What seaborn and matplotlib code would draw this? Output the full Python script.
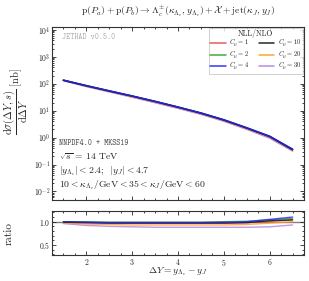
import numpy as np
import pandas as pd
import matplotlib
matplotlib.use('Agg')
import matplotlib.pyplot as plt
from matplotlib.ticker import MultipleLocator, LogLocator, NullFormatter
import seaborn as sns

# data
dY = [1.5, 2.0, 2.5, 3.0, 3.5, 4.0, 4.5, 5.0, 5.5, 6.0, 6.5]
# central cross section [nb]
dsigma = [135, 85, 55, 35.5, 22.4, 13.8, 8.3, 4.6, 2.3, 1.07, 0.34]
# NLL/NLO ratios per C_mu
ratio_c1 = [0.99, 0.98, 0.97, 0.97, 0.97, 0.97, 0.97, 0.97, 0.98, 1.01, 1.04]
ratio_c2 = [1.00, 1.00, 0.99, 0.99, 0.99, 0.99, 0.99, 1.00, 1.01, 1.04, 1.07]
ratio_c4 = [1.00, 0.99, 0.98, 0.98, 0.98, 0.98, 0.98, 0.99, 1.00, 1.05, 1.10]
ratio_c10 = [0.99, 0.98, 0.97, 0.97, 0.97, 0.97, 0.97, 0.97, 0.98, 1.02, 1.04]
ratio_c20 = [0.97, 0.95, 0.94, 0.93, 0.93, 0.93, 0.93, 0.93, 0.94, 0.97, 1.00]
ratio_c30 = [0.96, 0.92, 0.90, 0.89, 0.88, 0.88, 0.88, 0.88, 0.88, 0.89, 0.93]

labels = [r'$C_\mu = 1$', r'$C_\mu = 2$', r'$C_\mu = 4$',
          r'$C_\mu = 10$', r'$C_\mu = 20$', r'$C_\mu = 30$']
colors = ['#e8474a', '#2ca02c', '#1f1fff', '#111111', '#ff9a1f', '#b27ee0']
ratios = [ratio_c1, ratio_c2, ratio_c4, ratio_c10, ratio_c20, ratio_c30]

rows = []
for lab, r in zip(labels, ratios):
    for x, s, q in zip(dY, dsigma, r):
        rows.append({'dY': x, 'sigma': s * q, 'ratio': q, 'C': lab})
df = pd.DataFrame(rows)

sns.set_theme(style='ticks')
plt.rcParams['font.family'] = ['cmr10']
plt.rcParams['mathtext.fontset'] = 'cm'
plt.rcParams['axes.formatter.use_mathtext'] = True
plt.rcParams['axes.unicode_minus'] = False

fig = plt.figure(figsize=(3.09, 2.81), dpi=100)
ax = fig.add_axes([0.168, 0.288, 0.816, 0.617])
axr = fig.add_axes([0.168, 0.092, 0.816, 0.157], sharex=ax)

pal = dict(zip(labels, colors))
# main panel: orange/purple underneath, blue on top
order = [labels[5], labels[4], labels[0], labels[1], labels[3], labels[2]]
for lab in order:
    sub = df[df['C'] == lab]
    sns.lineplot(data=sub, x='dY', y='sigma', ax=ax, color=pal[lab], lw=1.1,
                 alpha=0.9, label=lab)
    sns.lineplot(data=sub, x='dY', y='ratio', ax=axr, color=pal[lab], lw=1.0,
                 alpha=0.8, legend=False)
axr.axhline(1.0, color='gray', lw=1.0, zorder=0)

ax.set_yscale('log')
ax.set_xlim(1.25, 6.75)
ax.set_ylim(4.8e-3, 1.3e4)
ax.yaxis.set_major_locator(LogLocator(base=10, numticks=10))
ax.yaxis.set_minor_locator(LogLocator(base=10, subs=np.arange(2, 10), numticks=20))
ax.yaxis.set_minor_formatter(NullFormatter())
axr.set_ylim(0.28, 1.23)
axr.yaxis.set_major_locator(MultipleLocator(0.5))
axr.yaxis.set_minor_locator(MultipleLocator(0.1))
axr.xaxis.set_major_locator(MultipleLocator(1))
axr.xaxis.set_minor_locator(MultipleLocator(0.25))

for a in (ax, axr):
    a.tick_params(which='both', direction='in', top=True, right=True,
                  labelsize=5.5, width=0.6, pad=1)
    a.tick_params(which='major', length=3)
    a.tick_params(which='minor', length=1.5)
    for sp in a.spines.values():
        sp.set_linewidth(0.8)
        sp.set_color('#333333')
ax.tick_params(labelbottom=False)

ax.set_xlabel('')
ax.set_ylabel(r'$\dfrac{\mathrm{d}\sigma(\Delta Y, s)}{\mathrm{d}\Delta Y}$ [nb]',
              fontsize=7.5)
ax.yaxis.set_label_coords(-0.085, 0.57)
axr.set_ylabel('ratio', fontsize=8)
axr.yaxis.set_label_coords(-0.15, 0.5)
axr.set_xlabel(r'$\Delta Y = y_{\Lambda_c} - y_J$', fontsize=7)
axr.xaxis.set_label_coords(0.5, -0.23)
ax.set_title(r'$\mathrm{p}(P_a) + \mathrm{p}(P_b) \to \Lambda_c^{\pm}(\kappa_{\Lambda_c}, y_{\Lambda_c}) + \mathcal{X} + \mathrm{jet}(\kappa_J, y_J)$',
             fontsize=7, pad=9)

# legend in original entry order
h, l = ax.get_legend_handles_labels()
hd = dict(zip(l, h))
leg = ax.legend([hd[k] for k in labels], labels, title='NLL/NLO', ncol=2,
                loc='upper right', fontsize=4.7, title_fontsize=5.5,
                frameon=True, fancybox=False, handlelength=2.4,
                columnspacing=1.4, labelspacing=0.0, borderaxespad=0.15,
                borderpad=0.2, handletextpad=0.6, handleheight=0.5)
leg.get_frame().set_edgecolor('#bbbbbb')
leg.get_frame().set_linewidth(0.6)
leg.get_title().set_fontweight('bold')

ax.text(0.04, 0.965, 'JETHAD v0.5.0', transform=ax.transAxes, fontsize=5.6,
        family='cmtt10', color='#aaaaaa', va='top')
ax.text(0.028, 0.33, 'NNPDF4.0 + MKSS19', transform=ax.transAxes, fontsize=5.6,
        family='cmtt10', color='#444444', va='center')
ax.text(0.028, 0.25, r'$\sqrt{s}$ = 14 TeV', transform=ax.transAxes,
        fontsize=7, va='center')
ax.text(0.028, 0.17, r'$|y_{\Lambda_c}| < 2.4$;  $|y_J| < 4.7$',
        transform=ax.transAxes, fontsize=7, va='center')
ax.text(0.028, 0.086,
        r'$10 < \kappa_{\Lambda_c}/\mathrm{GeV} < 35 < \kappa_J/\mathrm{GeV} < 60$',
        transform=ax.transAxes, fontsize=7, va='center')

fig.savefig('out.png', dpi=100)
